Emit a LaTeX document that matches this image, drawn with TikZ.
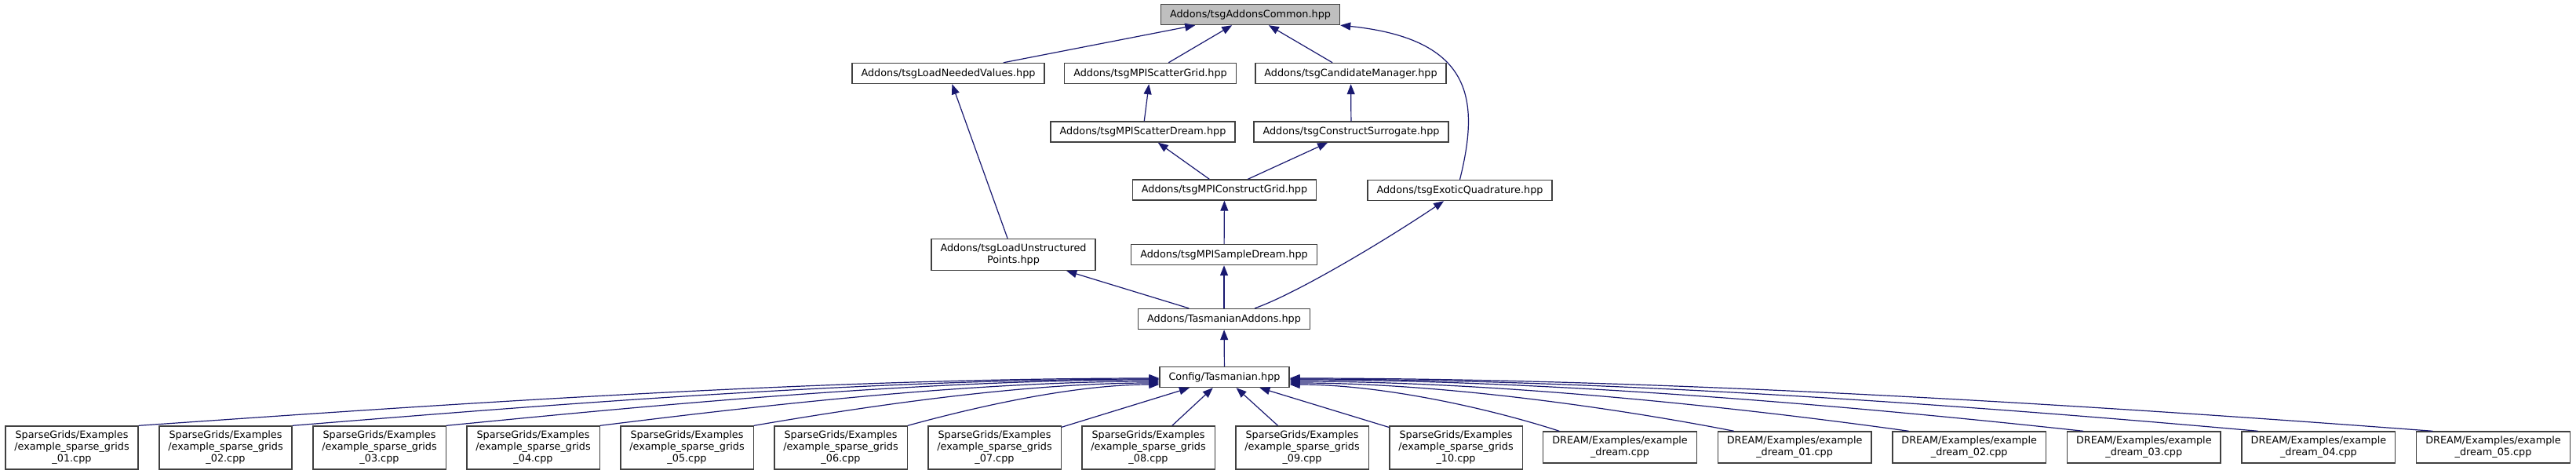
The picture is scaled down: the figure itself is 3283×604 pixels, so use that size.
\documentclass[tikz,border=0pt]{standalone}
\usepackage{fontspec}
\setmainfont{DejaVu Sans}
\usepackage{tikz}
\usetikzlibrary{arrows.meta}
\definecolor{DoxEdge}{RGB}{25,25,112}
\definecolor{DoxLine}{RGB}{64,64,64}
\definecolor{DoxGray}{RGB}{191,191,191}

\begin{document}
\begin{tikzpicture}[x=1pt, y=-1pt,
      fbox/.style={rectangle, draw=DoxLine, line width=1.4pt, fill=white,
                   minimum height=26pt, inner xsep=11.5pt, inner ysep=2pt,
                   align=center, font=\fontsize{12.8}{15}\selectfont},
      arr/.style={-{Triangle[length=13pt, width=10pt]}, draw=DoxEdge, line width=1.2pt}
    ]
    \useasboundingbox (0,0) rectangle (3283,604);

    \node[fbox, fill=DoxGray] (common)      at (1593.5, 18.5) {Addons/tsgAddonsCommon.hpp};
    \node[fbox]               (neededVals)  at (1208.5, 93.5) {Addons/tsgLoadNeededValues.hpp};
    \node[fbox]               (scatterGrid) at (1466,   93.5) {Addons/tsgMPIScatterGrid.hpp};
    \node[fbox]               (candMgr)     at (1721.5, 93.5) {Addons/tsgCandidateManager.hpp};
    \node[fbox]               (scatterDrm)  at (1456.5, 168)  {Addons/tsgMPIScatterDream.hpp};
    \node[fbox]               (constrSurr)  at (1722,   168)  {Addons/tsgConstructSurrogate.hpp};
    \node[fbox]               (constrGrid)  at (1560.5, 242)  {Addons/tsgMPIConstructGrid.hpp};
    \node[fbox]               (exotic)      at (1860.5, 242.5) {Addons/tsgExoticQuadrature.hpp};
    \node[fbox, minimum height=40pt] (loadUnstr) at (1291.5, 324.5)
          {Addons/tsgLoadUnstructured\\Points.hpp};
    \node[fbox]               (sampleDrm)   at (1560,   324.5) {Addons/tsgMPISampleDream.hpp};
    \node[fbox]               (tasAddons)   at (1560,   406.5) {Addons/TasmanianAddons.hpp};
    \node[fbox]               (config)      at (1560.5, 480.5) {Config/Tasmanian.hpp};

    \foreach \i/\n in {1/01,2/02,3/03,4/04,5/05,6/06,7/07,8/08,9/09,10/10}{
      \node[fbox, minimum height=55pt] (sg\i) at ({91.5+196*(\i-1)}, 570.5)
            {SparseGrids/Examples\\/example\_sparse\_grids\\\_\n.cpp};
    }
    \node[fbox, minimum height=40pt] (dream0) at (2064.5, 570)
          {DREAM/Examples/example\\\_dream.cpp};
    \foreach \j in {1,...,5}{
      \node[fbox, minimum height=40pt] (dream\j) at ({2064.5+222.6*\j}, 570)
            {DREAM/Examples/example\\\_dream\_0\j.cpp};
    }

    \draw[arr] (neededVals)  -- (common);
    \draw[arr] (scatterGrid) -- (common);
    \draw[arr] (candMgr)     -- (common);
    \draw[arr] (exotic.north) .. controls (1885,130) and (1880,50) .. (common.south east);
    \draw[arr] (scatterDrm)  -- (scatterGrid);
    \draw[arr] (constrSurr)  -- (candMgr);
    \draw[arr] (constrGrid)  -- (scatterDrm);
    \draw[arr] (constrGrid)  -- (constrSurr);
    \draw[arr] (sampleDrm)   -- (constrGrid);
    \draw[arr] (loadUnstr)   -- (neededVals);
    \draw[arr] (tasAddons)   -- (loadUnstr);
    \draw[arr] (tasAddons)   -- (sampleDrm);
    \draw[arr] (tasAddons) .. controls (1650,375) and (1760,310) .. (exotic);
    \draw[arr] (config)      -- (tasAddons);

    \foreach \i/\ye in {1/482,2/483,3/484,4/486,5/488,6/490}{
      \pgfmathsetmacro\rx{178+196*(\i-1)}
      \pgfmathsetmacro\ca{\rx+0.25*(1478-\rx)}
      \pgfmathsetmacro\cb{1478-0.35*(1478-\rx)}
      \draw[arr] (sg\i.north east) .. controls (\ca,520) and (\cb,\ye) .. (config.west |- 0,\ye);
    }
    \foreach \i in {7,...,10}{
      \draw[arr] (sg\i) -- (config);
    }
    \foreach \j/\ye in {0/490,1/488,2/486,3/484,4/483,5/482}{
      \pgfmathsetmacro\sx{1990+222.6*\j}
      \pgfmathsetmacro\ca{\sx-0.25*(\sx-1643)}
      \pgfmathsetmacro\cb{1643+0.35*(\sx-1643)}
      \draw[arr] (dream\j.165) .. controls (\ca,522) and (\cb,\ye) .. (config.east |- 0,\ye);
    }
  \end{tikzpicture}
\end{document}
